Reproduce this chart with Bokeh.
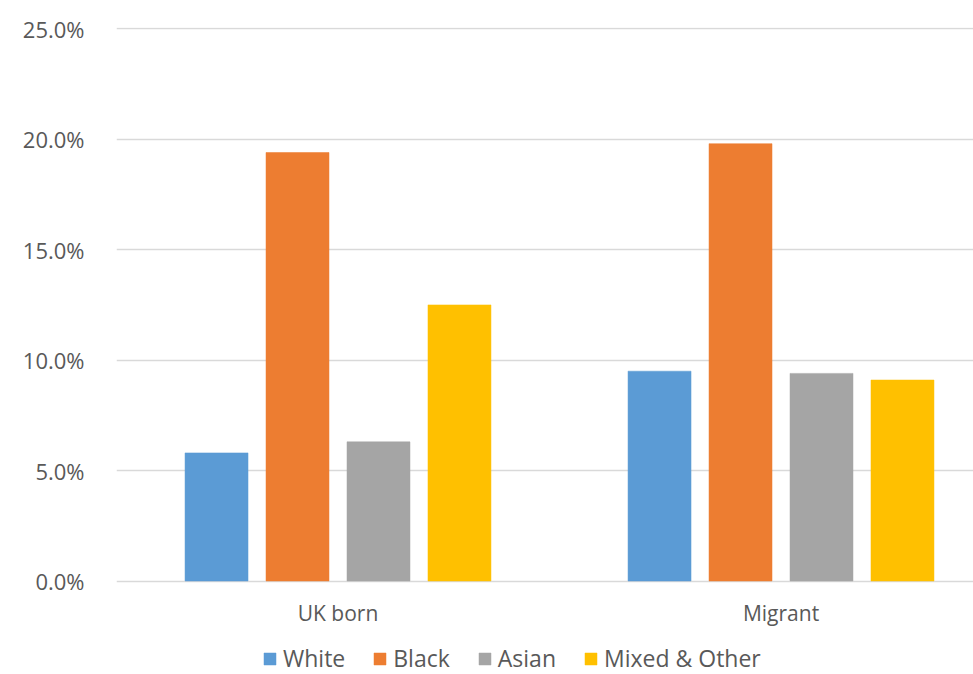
from bokeh.plotting import figure
from bokeh.models import ColumnDataSource, Legend, LegendItem, FixedTicker, PrintfTickFormatter, Range1d
from bokeh.embed import file_html
from bokeh.resources import INLINE

categories = ["UK born", "Migrant"]
series = ["White", "Black", "Asian", "Mixed & Other"]
white = [5.8, 9.5]
black = [19.4, 19.8]
asian = [6.3, 9.4]
mixed = [12.5, 9.1]
colors = ["#5B9BD5", "#ED7D31", "#A5A5A5", "#FFC000"]
y_ticks = [0, 5, 10, 15, 20, 25]

values = [white, black, asian, mixed]
FONT = "Open Sans"
TXT = "#595959"

p = figure(width=973, height=674, output_backend="svg", toolbar_location=None,
           x_range=Range1d(0, 1.9345), y_range=Range1d(-4.233, 25.06),
           min_border_left=116, min_border_top=27, min_border_right=0, min_border_bottom=0)
p.outline_line_color = None
p.background_fill_color = "white"

cx = [i + 0.5 for i in range(len(categories))]
step = 0.1828
bw = 0.1422
items = []
for k, (name, vals, col) in enumerate(zip(series, values, colors)):
    off = (k - 1.5) * step
    src = ColumnDataSource(dict(x=[c + off for c in cx], top=vals))
    r = p.vbar(x="x", top="top", width=bw, bottom=0, source=src, fill_color=col,
               line_color=col, line_width=0.5)
    items.append(LegendItem(label=name, renderers=[r]))

p.xgrid.grid_line_color = None
p.ygrid.grid_line_color = "#D9D9D9"
p.ygrid.grid_line_width = 1.3
p.ygrid.ticker = FixedTicker(ticks=y_ticks)
p.ygrid.level = "underlay"

p.yaxis.ticker = FixedTicker(ticks=y_ticks)
p.yaxis.formatter = PrintfTickFormatter(format="%.1f%%")
p.yaxis.axis_line_color = None
p.yaxis.major_tick_line_color = None
p.yaxis.minor_tick_line_color = None
p.yaxis.major_label_standoff = 26
p.yaxis.major_label_text_font = FONT
p.yaxis.major_label_text_font_size = "22px"
p.yaxis.major_label_text_color = TXT

p.xaxis.fixed_location = 0
p.xaxis.ticker = FixedTicker(ticks=cx)
p.xaxis.major_label_overrides = {c: lab for c, lab in zip(cx, categories)}
p.xaxis.axis_line_color = None
p.xaxis.major_tick_line_color = None
p.xaxis.minor_tick_line_color = None
p.xaxis.major_label_standoff = 12
p.xaxis.major_label_text_font = FONT
p.xaxis.major_label_text_font_size = "21px"
p.xaxis.major_label_text_color = TXT

legend = Legend(items=items, orientation="horizontal", location=(146, 0),
                glyph_width=15, glyph_height=15, label_standoff=6, spacing=27,
                padding=0, margin=0, border_line_color=None, background_fill_alpha=0,
                label_text_font=FONT, label_text_font_size="23px", label_text_color=TXT)
p.add_layout(legend, "center")

open("out.html", "w").write(file_html(p, INLINE))
